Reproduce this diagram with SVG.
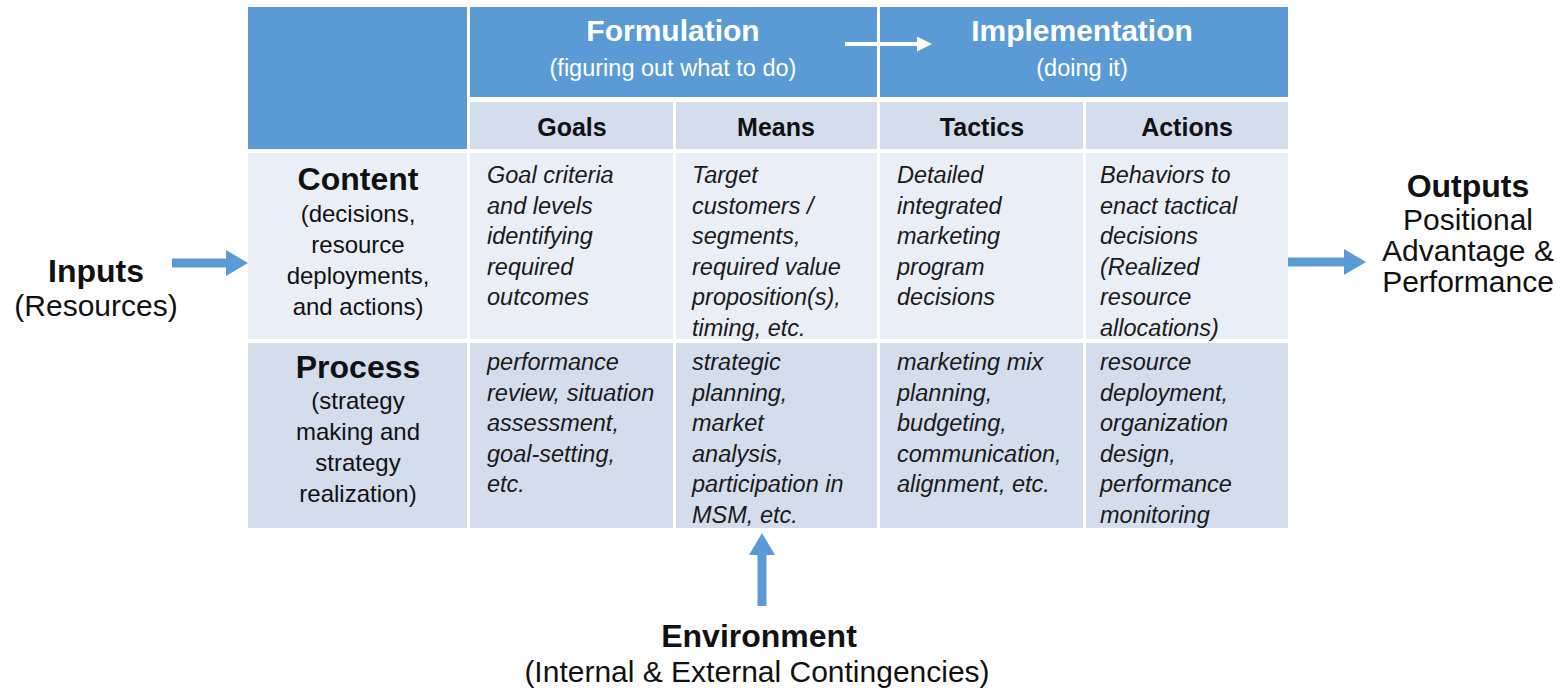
<svg xmlns="http://www.w3.org/2000/svg" width="1562" height="694" viewBox="0 0 1562 694">
<defs>
<style>
text{font-family:"Liberation Sans",Arial,sans-serif;fill:#111;}
.hdr{fill:#5b9bd5;}
.sub{fill:#d3ddec;}
.crow{fill:#e9eef7;}
.prow{fill:#d3ddec;}
.htitle{font-size:30px;font-weight:bold;fill:#fff;text-anchor:middle;}
.hsub{font-size:23.5px;fill:#fff;text-anchor:middle;}
.colh{font-size:25px;font-weight:bold;text-anchor:middle;}
.cell{font-size:23.5px;font-style:italic;fill:#1a1a1a;}
.rowt{font-size:32px;font-weight:bold;text-anchor:middle;}
.rows{font-size:24px;text-anchor:middle;}
.big{font-size:32px;font-weight:bold;text-anchor:middle;}
.bigs{font-size:30px;text-anchor:middle;}
.conn{stroke:#5b9bd5;stroke-width:9;fill:none;}
.wconn{stroke:#fff;stroke-width:4;fill:none;}
</style>
<marker id="bh" viewBox="0 0 22 26" refX="0" refY="13" markerWidth="22" markerHeight="26" markerUnits="userSpaceOnUse" orient="auto">
<path d="M0,0 L22,13 L0,26 Z" fill="#5b9bd5"/>
</marker>
<marker id="wh" viewBox="0 0 15 15" refX="0" refY="7.5" markerWidth="15" markerHeight="15" markerUnits="userSpaceOnUse" orient="auto">
<path d="M0,0 L15,7.5 L0,15 Z" fill="#fff"/>
</marker>
</defs>
<rect width="1562" height="694" fill="#fff"/>

<g id="header-corner"><rect class="hdr" x="248" y="7" width="219" height="142"/></g>
<g id="formulation">
<rect class="hdr" x="470" y="7" width="407" height="90"/>
<text class="htitle" x="673" y="41">Formulation</text>
<text class="hsub" x="673" y="76">(figuring out what to do)</text>
</g>
<g id="implementation">
<rect class="hdr" x="880" y="7" width="408" height="90"/>
<text class="htitle" x="1082" y="41">Implementation</text>
<text class="hsub" x="1082" y="76">(doing it)</text>
</g>

<g id="col-goals"><rect class="sub" x="470" y="102" width="203" height="47"/><text class="colh" x="572" y="136">Goals</text></g>
<g id="col-means"><rect class="sub" x="676" y="102" width="201" height="47"/><text class="colh" x="776" y="136">Means</text></g>
<g id="col-tactics"><rect class="sub" x="880" y="102" width="203" height="47"/><text class="colh" x="982" y="136">Tactics</text></g>
<g id="col-actions"><rect class="sub" x="1086" y="102" width="202" height="47"/><text class="colh" x="1187" y="136">Actions</text></g>

<g id="row-content">
<rect class="crow" x="248" y="153" width="219" height="186"/>
<text class="rowt" x="358" y="190">Content</text>
<text class="rows" x="358" y="222">(decisions,<tspan x="358" dy="31">resource</tspan><tspan x="358" dy="31">deployments,</tspan><tspan x="358" dy="31">and actions)</tspan></text>
</g>
<g id="content-goals">
<rect class="crow" x="470" y="153" width="203" height="186"/>
<text class="cell" x="487" y="183">Goal criteria<tspan x="487" dy="30.6">and levels</tspan><tspan x="487" dy="30.6">identifying</tspan><tspan x="487" dy="30.6">required</tspan><tspan x="487" dy="30.6">outcomes</tspan></text>
</g>
<g id="content-means">
<rect class="crow" x="676" y="153" width="201" height="186"/>
<text class="cell" x="692" y="183">Target<tspan x="692" dy="30.6">customers /</tspan><tspan x="692" dy="30.6">segments,</tspan><tspan x="692" dy="30.6">required value</tspan><tspan x="692" dy="30.6">proposition(s),</tspan><tspan x="692" dy="30.6">timing, etc.</tspan></text>
</g>
<g id="content-tactics">
<rect class="crow" x="880" y="153" width="203" height="186"/>
<text class="cell" x="897" y="183">Detailed<tspan x="897" dy="30.6">integrated</tspan><tspan x="897" dy="30.6">marketing</tspan><tspan x="897" dy="30.6">program</tspan><tspan x="897" dy="30.6">decisions</tspan></text>
</g>
<g id="content-actions">
<rect class="crow" x="1086" y="153" width="202" height="186"/>
<text class="cell" x="1100" y="183">Behaviors to<tspan x="1100" dy="30.6">enact tactical</tspan><tspan x="1100" dy="30.6">decisions</tspan><tspan x="1100" dy="30.6">(Realized</tspan><tspan x="1100" dy="30.6">resource</tspan><tspan x="1100" dy="30.6">allocations)</tspan></text>
</g>

<g id="row-process">
<rect class="prow" x="248" y="343" width="219" height="185"/>
<text class="rowt" x="358" y="378">Process</text>
<text class="rows" x="358" y="409">(strategy<tspan x="358" dy="31">making and</tspan><tspan x="358" dy="31">strategy</tspan><tspan x="358" dy="31">realization)</tspan></text>
</g>
<g id="process-goals">
<rect class="prow" x="470" y="343" width="203" height="185"/>
<text class="cell" x="487" y="370">performance<tspan x="487" dy="30.5">review, situation</tspan><tspan x="487" dy="30.5">assessment,</tspan><tspan x="487" dy="30.5">goal-setting,</tspan><tspan x="487" dy="30.5">etc.</tspan></text>
</g>
<g id="process-means">
<rect class="prow" x="676" y="343" width="201" height="185"/>
<text class="cell" x="692" y="370">strategic<tspan x="692" dy="30.5">planning,</tspan><tspan x="692" dy="30.5">market</tspan><tspan x="692" dy="30.5">analysis,</tspan><tspan x="692" dy="30.5">participation in</tspan><tspan x="692" dy="30.5">MSM, etc.</tspan></text>
</g>
<g id="process-tactics">
<rect class="prow" x="880" y="343" width="203" height="185"/>
<text class="cell" x="897" y="370">marketing mix<tspan x="897" dy="30.5">planning,</tspan><tspan x="897" dy="30.5">budgeting,</tspan><tspan x="897" dy="30.5">communication,</tspan><tspan x="897" dy="30.5">alignment, etc.</tspan></text>
</g>
<g id="process-actions">
<rect class="prow" x="1086" y="343" width="202" height="185"/>
<text class="cell" x="1100" y="370">resource<tspan x="1100" dy="30.5">deployment,</tspan><tspan x="1100" dy="30.5">organization</tspan><tspan x="1100" dy="30.5">design,</tspan><tspan x="1100" dy="30.5">performance</tspan><tspan x="1100" dy="30.5">monitoring</tspan></text>
</g>

<g id="inputs">
<text class="big" x="96" y="282">Inputs</text>
<text class="bigs" x="96" y="316">(Resources)</text>
</g>
<g id="outputs">
<text class="big" x="1468" y="197">Outputs</text>
<text class="bigs" x="1468" y="230">Positional<tspan x="1468" dy="31">Advantage &amp;</tspan><tspan x="1468" dy="31">Performance</tspan></text>
</g>
<g id="environment">
<text class="big" x="759" y="647">Environment</text>
<text class="bigs" x="757" y="682">(Internal &amp; External Contingencies)</text>
</g>

<g id="connectors">
<line class="wconn" x1="845" y1="44" x2="917" y2="44" marker-end="url(#wh)"/>
<line class="conn" x1="172" y1="263" x2="226" y2="263" marker-end="url(#bh)"/>
<line class="conn" x1="1288" y1="262" x2="1344" y2="262" marker-end="url(#bh)"/>
<line class="conn" x1="762" y1="606" x2="762" y2="555" marker-end="url(#bh)"/>
</g>
</svg>
